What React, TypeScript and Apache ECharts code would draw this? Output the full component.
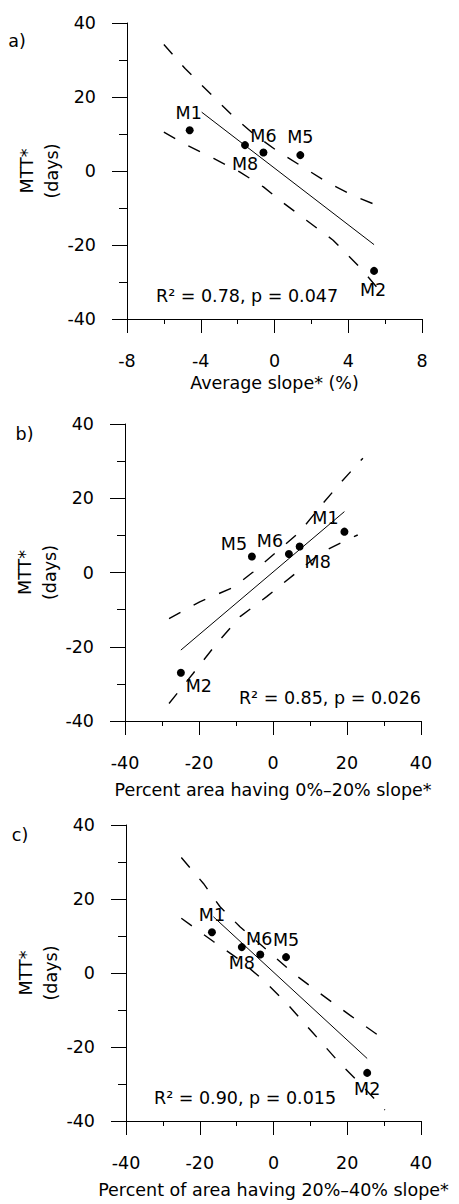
import React, { useEffect, useRef } from "react";
import * as echarts from "echarts";

// ---- data ----
const sites = ["M1", "M8", "M6", "M5", "M2"];
const mttDays = [11, 7, 5, 4.3, -27];
const averageSlope = [-4.6, -1.6, -0.6, 1.4, 5.4];
const pctArea0to20 = [19.3, 7.2, 4.3, -5.7, -24.9];
const pctArea20to40 = [-16.7, -8.6, -3.6, 3.4, 25.4];

const fitA = [[-3.95, 15.9], [5.4, -19.9]];
const upperA = [[-6, 34.2], [-4.85, 27.7], [-3.3, 20], [-2.2, 14.6], [-1.15, 10.1], [0.1, 5.6], [1.4, 1.5], [2.9, -3.2], [4.35, -6.8], [6, -10.2]];
const lowerA = [[-6, 10.5], [-4.75, 7], [-3.3, 3.4], [-1.87, -0.3], [-0.6, -4.3], [0.47, -8.6], [1.73, -13.3], [3.18, -18.7], [4.62, -26], [6, -34]];

const fitB = [[-24.9, -20.9], [19.3, 16.4]];
const upperB = [[-28.1, -12.4], [-19.8, -7.9], [-10.7, -4.0], [-5.3, 0.2], [1, 5.6], [7.3, 11], [12.8, 17.8], [18.2, 24.1], [24.3, 30.8]];
const lowerB = [[-28.1, -35.3], [-21.6, -27.2], [-15.2, -19.1], [-8.9, -11.9], [-1.7, -6.5], [5.5, -0.7], [12.8, 5.2], [20, 8.8], [22.9, 10.1]];

const fitC = [[-16.3, 15.2], [25.4, -23.1]];
const upperC = [[-25, 31.2], [-19, 24.2], [-14.5, 17.9], [-9.1, 12.5], [-1.8, 6.2], [5.4, -0.1], [12.6, -5.5], [20.7, -11.4], [30.2, -18.1]];
const lowerC = [[-25, 14.8], [-16.3, 8.5], [-9.1, 3.5], [-2.8, -1.9], [3.6, -8.2], [10.8, -16.3], [18, -24.4], [23.4, -29.8], [30.2, -37]];

const panelLetters = ["a)", "b)", "c)"];
const xTitles = ["Average slope* (%)", "Percent area having 0%\u201320% slope*", "Percent of area having 20%\u201340% slope*"];
const statTexts = ["R\u00B2 = 0.78, p = 0.047", "R\u00B2 = 0.85, p = 0.026", "R\u00B2 = 0.90, p = 0.015"];
const xRanges = [[-8, 8, 4], [-40, 40, 20], [-40, 40, 20]];
const yRange = [-40, 40, 20];

// ---- layout / style (not data) ----
const FONT = "DejaVu Sans";
const FS = 17.5;
const grids = [
  { left: 127, top: 23, width: 295, height: 296 },
  { left: 125, top: 424, width: 296, height: 297 },
  { left: 126, top: 825, width: 295, height: 296 },
];
const xNameGaps = [55, 60, 60];
const labelOffsets = [
  [[-1, -17], [0, 19], [0, -17], [0, -18], [-1, 19]],
  [[-19, -14], [18, 15], [-19, -13], [-18, -13], [18, 13]],
  [[0, -17], [0, 16], [-1, -16], [0, -17], [0, 16]],
];
const letterPos = [[17, 41], [24.5, 434], [20, 834.5]];
const statPos = [
  { x: 156, y: 296, align: "left" },
  { x: 421, y: 698, align: "right" },
  { x: 154, y: 1098, align: "left" },
];

export default function App() {
  const ref = useRef<HTMLDivElement>(null);
  useEffect(() => {
    if (!ref.current) return;
    const chart = echarts.init(ref.current, undefined, { renderer: "svg" });
    const xs = [averageSlope, pctArea0to20, pctArea20to40];
    const fits = [fitA, fitB, fitC];
    const uppers = [upperA, upperB, upperC];
    const lowers = [lowerA, lowerB, lowerC];

    const xAxis: any[] = [];
    const yAxis: any[] = [];
    const series: any[] = [];
    const graphic: any[] = [];

    for (let i = 0; i < 3; i++) {
      xAxis.push({
        type: "value",
        gridIndex: i,
        min: xRanges[i][0],
        max: xRanges[i][1],
        interval: xRanges[i][2],
        name: xTitles[i],
        nameLocation: "middle",
        nameGap: xNameGaps[i],
        nameMoveOverlap: false,
        nameTextStyle: { fontFamily: FONT, fontSize: FS, color: "#000" },
        axisLine: { onZero: false, lineStyle: { color: "#000", width: 1 } },
        axisTick: { show: true, length: 14, lineStyle: { color: "#000", width: 1 } },
        minorTick: { show: true, splitNumber: 2, length: 5, lineStyle: { color: "#000", width: 1 } },
        axisLabel: { fontFamily: FONT, fontSize: FS, color: "#000", margin: 33 },
        splitLine: { show: false },
      });
      yAxis.push({
        type: "value",
        gridIndex: i,
        min: yRange[0],
        max: yRange[1],
        interval: yRange[2],
        name: "MTT*\n(days)",
        nameLocation: "middle",
        nameGap: 63,
        nameMoveOverlap: false,
        nameTextStyle: { fontFamily: FONT, fontSize: FS, color: "#000", lineHeight: 24.5 },
        axisLine: { onZero: false, lineStyle: { color: "#000", width: 1 } },
        axisTick: { show: true, length: 15, lineStyle: { color: "#000", width: 1 } },
        minorTick: { show: true, splitNumber: 2, length: 8, lineStyle: { color: "#000", width: 1 } },
        axisLabel: { fontFamily: FONT, fontSize: FS, color: "#000", margin: 31 },
        splitLine: { show: false },
      });

      const dashed = (d: number[][]) => ({
        type: "line",
        xAxisIndex: i,
        yAxisIndex: i,
        data: d,
        symbol: "none",
        silent: true,
        lineStyle: { color: "#000", width: 1.4, type: [13, 15] },
      });
      series.push(dashed(uppers[i]));
      series.push(dashed(lowers[i]));
      series.push({
        type: "line",
        xAxisIndex: i,
        yAxisIndex: i,
        data: fits[i],
        symbol: "none",
        silent: true,
        lineStyle: { color: "#000", width: 1 },
      });
      series.push({
        type: "scatter",
        xAxisIndex: i,
        yAxisIndex: i,
        symbol: "circle",
        symbolSize: 8,
        itemStyle: { color: "#000", opacity: 1 },
        data: sites.map((s, k) => ({
          name: s,
          value: [xs[i][k], mttDays[k]],
          label: {
            show: true,
            formatter: s,
            position: "inside",
            align: "center",
            verticalAlign: "middle",
            offset: labelOffsets[i][k],
            fontFamily: FONT,
            fontSize: FS,
            color: "#000",
            textBorderWidth: 0,
            textBorderColor: "transparent",
          },
        })),
        z: 5,
      });

      graphic.push({
        type: "text",
        x: letterPos[i][0],
        y: letterPos[i][1],
        style: {
          text: panelLetters[i],
          font: `${FS}px "${FONT}"`,
          fill: "#000",
          textAlign: "center",
          textVerticalAlign: "middle",
        },
      });
      graphic.push({
        type: "text",
        x: statPos[i].x,
        y: statPos[i].y,
        style: {
          text: statTexts[i],
          font: `${FS}px "${FONT}"`,
          fill: "#000",
          textAlign: statPos[i].align,
          textVerticalAlign: "middle",
        },
      });
    }

    chart.setOption({
      animation: false,
      backgroundColor: "#fff",
      textStyle: { fontFamily: FONT },
      grid: grids,
      xAxis,
      yAxis,
      series,
      graphic,
    });
    return () => chart.dispose();
  }, []);
  return (
    <div
      ref={ref}
      style={{ position: "absolute", left: 0, top: 0, width: 459, height: 1204, background: "#fff" }}
    />
  );
}
